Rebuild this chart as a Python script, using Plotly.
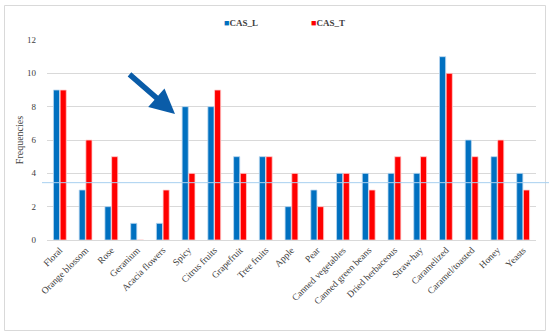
import plotly.graph_objects as go

categories = ["Floral", "Orange blossom", "Rose", "Geranium", "Acacia flowers", "Spicy",
              "Citrus fruits", "Grapefruit", "Tree fruits", "Apple", "Pear",
              "Canned vegetables", "Canned green beans", "Dried herbaceous", "Straw-hay",
              "Caramelized", "Caramel/toasted", "Honey", "Yeasts"]
cas_l = [9, 3, 2, 1, 1, 8, 8, 5, 5, 2, 3, 4, 4, 4, 4, 11, 6, 5, 4]
cas_t = [9, 6, 5, 0, 3, 4, 9, 4, 5, 4, 2, 4, 3, 5, 5, 10, 5, 6, 3]
y_ticks = [0, 2, 4, 6, 8, 10, 12]

BLUE = "#0070c0"
RED = "#ff0000"
SERIF = "Liberation Serif, Times New Roman, serif"

fig = go.Figure()
fig.add_trace(go.Bar(name="CAS_L", x=categories, y=cas_l, marker_color=BLUE,
                     marker_line=dict(color="#bcd8f0", width=0.8)))
fig.add_trace(go.Bar(name="CAS_T", x=categories, y=cas_t, marker_color=RED,
                     marker_line=dict(color="#ffd0d0", width=0.8)))

L, R, T, B = 47, 536, 40, 240
W, H = 550, 336
pw, ph = R - L, B - T

def px(x):
    return (x - L) / pw

def py(y):
    return (B - y) / ph

fig.update_layout(
    width=W, height=H,
    margin=dict(l=L, r=W - R, t=T, b=H - B, pad=0, autoexpand=False),
    paper_bgcolor="white", plot_bgcolor="white",
    barmode="group", bargap=0.48, bargroupgap=0.08,
    showlegend=False,
    font=dict(family=SERIF, size=9, color="#404040"),
    xaxis=dict(tickangle=-45, tickfont=dict(family=SERIF, size=9.5, color="#404040"),
               showline=True, linecolor="#d9d9d9", linewidth=1, ticks="",
               showgrid=False, automargin=False),
    yaxis=dict(range=[0, 12], tickvals=y_ticks, showgrid=True, gridcolor="#d9d9d9",
               gridwidth=1, zeroline=False, showline=False, ticks="",
               tickfont=dict(family=SERIF, size=9, color="#404040"),
               ticklabelstandoff=10, automargin=False,
               title=dict(text="Frequencies", font=dict(family=SERIF, size=10, color="#404040"),
                          standoff=1)),
)

# outer frame
fig.add_shape(type="rect", xref="paper", yref="paper",
              x0=px(4.5), x1=px(545.5), y0=py(330.5), y1=py(5.5),
              line=dict(color="#d9d9d9", width=1), fillcolor="rgba(0,0,0,0)", layer="below")
# faint light-blue horizontal line
fig.add_shape(type="line", xref="paper", yref="y",
              x0=px(42), x1=px(549), y0=3.44, y1=3.44,
              line=dict(color="#a8d0f0", width=1))

# legend as text
fig.add_annotation(xref="paper", yref="paper", x=px(222), y=py(23), xanchor="left",
                   yanchor="middle", showarrow=False,
                   text="<span style='color:%s'>■</span><b>CAS_L</b>" % BLUE,
                   font=dict(family=SERIF, size=9, color="#404040"))
fig.add_annotation(xref="paper", yref="paper", x=px(309), y=py(23), xanchor="left",
                   yanchor="middle", showarrow=False,
                   text="<span style='color:%s'>■</span><b>CAS_T</b>" % RED,
                   font=dict(family=SERIF, size=9, color="#404040"))

# arrow pointing to Spicy
fig.add_annotation(xref="paper", yref="paper", x=px(175), y=py(114),
                   ax=128 - 175, ay=73 - 114, axref="pixel", ayref="pixel",
                   showarrow=True, arrowhead=2, arrowsize=0.9, arrowwidth=5.5,
                   arrowcolor="#0a5ca8", text="")

fig.write_html("out.html", config={"displayModeBar": False},
               post_script="document.body.style.margin='0';document.body.style.overflow='hidden';")
